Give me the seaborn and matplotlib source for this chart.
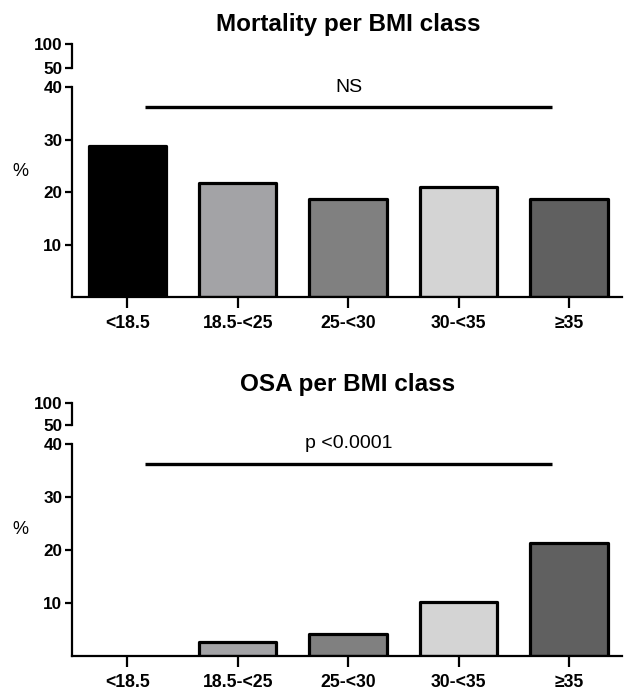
import matplotlib
matplotlib.use("Agg")
import matplotlib.pyplot as plt
import seaborn as sns
import pandas as pd

# data
bmi_classes = ["<18.5", "18.5-<25", "25-<30", "30-<35", "≥35"]
mortality = [28.8, 21.8, 18.7, 21.0, 18.7]
osa = [0.0, 2.7, 4.2, 10.1, 21.4]
bar_colors = ["#000000", "#a3a2a7", "#808080", "#d4d4d4", "#606060"]

panels = [
    ("Mortality per BMI class", mortality, "NS"),
    ("OSA per BMI class", osa, "p <0.0001"),
]

sns.set_style("ticks")
plt.rcParams["font.family"] = ["Liberation Sans", "DejaVu Sans"]
plt.rcParams["text.color"] = "black"
plt.rcParams["xtick.color"] = "black"
plt.rcParams["ytick.color"] = "black"
plt.rcParams["axes.edgecolor"] = "black"

fig = plt.figure(figsize=(6.24, 6.91), dpi=100)
W, H = 624, 691

# pixel layout: (main top, main bottom, upper top, upper bottom, title y)
layout = [
    (87, 297, 44, 68, 24),
    (444, 656, 403, 425, 384),
]
x_left, x_right = 72, 622

for (title, vals, sig), (mt, mb, ut, ub, ty) in zip(panels, layout):
    df = pd.DataFrame({"bmi": bmi_classes, "pct": vals})
    ax = fig.add_axes([x_left / W, 1 - mb / H, (x_right - x_left) / W, (mb - mt) / H])
    top = fig.add_axes([x_left / W, 1 - ub / H, (x_right - x_left) / W, (ub - ut) / H])

    sns.barplot(data=df, x="bmi", y="pct", hue="bmi", palette=bar_colors,
                legend=False, width=0.7, edgecolor="black", linewidth=2.3, ax=ax)
    for p in ax.patches:
        p.set_joinstyle("round")
        if p.get_height() == 0:
            p.set_linewidth(0)
    ax.set_ylim(0, 40)
    ax.set_xlim(-0.5, 4.48)
    ax.set_yticks([10, 20, 30, 40])
    ax.set_xlabel("")
    ax.set_ylabel("")
    sns.despine(ax=ax)
    for s in ["left", "bottom"]:
        ax.spines[s].set_linewidth(1.6)
    ax.tick_params(axis="y", length=5, width=1.6, labelsize=12.3, pad=2)
    ax.tick_params(axis="x", length=8, width=1.6, labelsize=12.7, pad=5)
    for lab in ax.get_xticklabels() + ax.get_yticklabels():
        lab.set_fontweight("bold")

    # significance line
    x0, x1 = 0.16, 3.85
    ax.hlines(36.2, x0, x1, color="black", linewidth=2.4)
    ax.text((x0 + x1) / 2, 40.0, sig, ha="center", va="center", fontsize=14)

    # upper segment of the broken axis
    top.set_ylim(50, 100)
    top.set_yticks([50, 100])
    top.set_xticks([])
    top.set_xlim(ax.get_xlim())
    top.patch.set_alpha(0)
    for s in ["top", "right", "bottom"]:
        top.spines[s].set_visible(False)
    top.spines["left"].set_linewidth(1.6)
    top.tick_params(axis="y", length=5, width=1.6, labelsize=12.3, pad=2)
    for lab in top.get_yticklabels():
        lab.set_fontweight("bold")

    fig.text(348 / W, 1 - ty / H, title, ha="center", va="center",
             fontsize=17.5, fontweight="bold")
    fig.text(20 / W, 1 - (mt + 85) / H, "%", ha="center", va="center",
             fontsize=13)

fig.savefig("out.png", dpi=100)
